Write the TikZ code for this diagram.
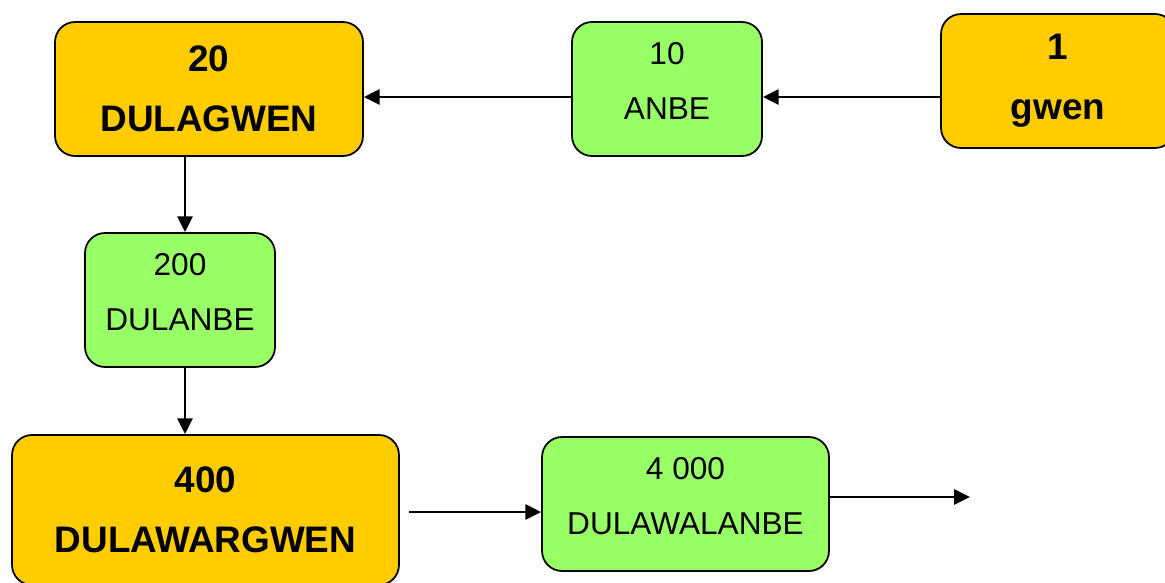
\documentclass[tikz,border=0pt]{standalone}
\usepackage{fontspec}
\setmainfont{Liberation Sans}
\usetikzlibrary{arrows.meta,positioning}
\definecolor{goldbox}{HTML}{FFCC00}
\definecolor{limebox}{HTML}{99FF66}
\tikzstyle{gold} = [draw,line width=1pt,rounded corners=0.4cm,fill=goldbox,align=center,inner sep=0pt,font=\bfseries\fontsize{21}{34}\selectfont]
\tikzstyle{lime} = [draw,line width=1pt,rounded corners=0.4cm,fill=limebox,inner sep=0pt]
\tikzstyle{limetext} = [align=center,inner sep=0pt,yshift=0.16cm,font=\fontsize{18}{31.7}\selectfont]
\tikzstyle{link} = [line width=1.6pt,->]
\tikzset{>={Triangle[length=9pt,width=8.5pt]}}

\begin{document}
\begin{tikzpicture}[x=0.02cm,y=-0.02cm]
    \useasboundingbox (0,0) rectangle (1165,582);

    \node [gold,minimum width=4.68cm,minimum height=2.68cm] (gwen) at (1058,81) {1\\gwen};
    \node [lime,minimum width=3.8cm,minimum height=2.68cm,label={[limetext]center:10\\ANBE}] (anbe) at (667,89) {};
    \node [gold,minimum width=6.16cm,minimum height=2.68cm] (dulagwen) at (209,89) {20\\DULAGWEN};
    \node [lime,minimum width=3.8cm,minimum height=2.68cm,label={[limetext]center:200\\DULANBE}] (dulanbe) at (180,300) {};
    \node [gold,minimum width=7.74cm,minimum height=3cm] (dulawargwen) at (205.5,510) {400\\DULAWARGWEN};
    \node [lime,minimum width=5.74cm,minimum height=2.68cm,label={[limetext]center:4 000\\DULAWALANBE}] (dulawalanbe) at (685.5,504) {};

    % rows and column the arrows run along
    \coordinate (row1) at (0,97);
    \coordinate (col1) at (185,0);
    \coordinate (row3) at (0,512);
    \coordinate (tail) at (970,497);

    \draw [link] (gwen.west |- row1) -- (anbe.east |- row1);
    \draw [link] (anbe.west |- row1) -- (dulagwen.east |- row1);
    \draw [link] (dulagwen.south -| col1) -- (dulanbe.north -| col1);
    \draw [link] (dulanbe.south -| col1) -- (dulawargwen.north -| col1);
    \draw [link] ([xshift=0.18cm]dulawargwen.east |- row3) -- (dulawalanbe.west |- row3);
    \draw [link] (dulawalanbe.east |- tail) -- (tail);
\end{tikzpicture}
\end{document}
